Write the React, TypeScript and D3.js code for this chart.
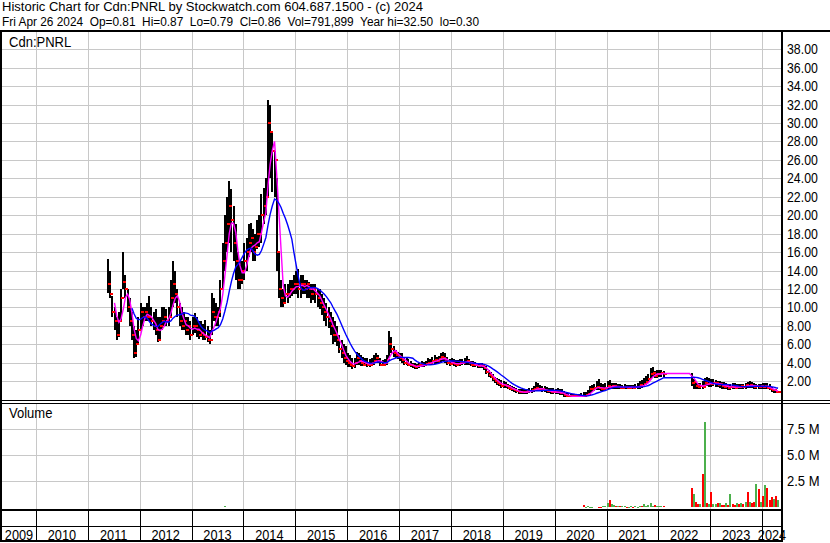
import React, { useRef, useEffect } from 'react';
import * as d3 from 'd3';

const titleLine = 'Historic Chart for Cdn:PNRL by Stockwatch.com 604.687.1500 - (c) 2024';
const quoteLine =
  'Fri Apr 26 2024  Op=0.81  Hi=0.87  Lo=0.79  Cl=0.86  Vol=791,899  Year hi=32.50  lo=0.30';
const symbol = 'Cdn:PNRL';

const priceTicks = [2, 4, 6, 8, 10, 12, 14, 16, 18, 20, 22, 24, 26, 28, 30, 32, 34, 36, 38];
const volumeTicks = [2.5, 5, 7.5];
const volumeLabels = ['2.5 M', '5.0 M', '7.5 M'];
const yearLabels = [2009, 2010, 2011, 2012, 2013, 2014, 2015, 2016, 2017, 2018, 2019, 2020, 2021, 2022, 2023, 2024];

// half-month bars: [high, low, close, volume in millions], null = no trading
const bars2011 = [
  [15.2, 11.6, 12.5, 0], [14, 11, 11.5, 0], [11.2, 9, 9.5, 0], [10, 7.5, 8.5, 0], [9, 6.5, 7, 0],
  [9.5, 6.8, 8.5, 0], [12, 8.5, 11, 0], [16, 12, 12.8, 0], [13.5, 11, 12, 0], [12, 9.5, 10, 0],
  [11, 8, 8.5, 0], [9.5, 6.5, 7, 0], [8, 4.5, 5, 0], [7.5, 4.6, 6, 0], [9, 6, 7.5, 0],
];
const bars2012 = [
  [10.5, 7.5, 9.5, 0], [10, 8, 9, 0], [10, 8.5, 9.5, 0], [10.5, 8.5, 9, 0], [11.2, 8.5, 9, 0],
  [10, 8, 8.5, 0], [9.5, 7.5, 8, 0], [9.8, 7, 7.5, 0], [9, 6.2, 6.5, 0], [9, 6.5, 8, 0],
  [10, 7.5, 8.5, 0], [10, 8, 9, 0], [9.8, 8, 8.5, 0], [10, 8, 9, 0], [13, 9, 11, 0],
  [15, 10, 12.5, 0], [14, 10.5, 11.5, 0], [12, 9, 10, 0], [10.5, 8, 8.5, 0], [10, 7.5, 8, 0],
  [9.5, 7.5, 8.5, 0], [9, 7, 7.5, 0], [9, 7, 8, 0], [8.5, 6.5, 7, 0],
];
const bars2013 = [
  [9, 7, 8, 0], [9.4, 7.2, 8, 0], [9, 6.8, 7.5, 0], [8.5, 6.6, 7, 0], [8.5, 6.8, 7.2, 0],
  [8.2, 6.5, 7, 0], [8.6, 6.5, 6.8, 0], [8, 6.2, 6.5, 0], [7.5, 6, 6.5, 0], [11.6, 7, 9.5, 0],
  [11, 8.5, 9, 0], [10.5, 8, 9, 0], [10, 8, 9.5, 0], [13, 9, 12, 0], [17, 12, 15, 0],
  [20, 14, 17, 0.08], [22, 16, 19, 0], [23.7, 17, 21, 0], [22.8, 16, 19.5, 0], [21, 15, 17, 0],
  [19, 13, 15, 0], [16, 12, 13, 0], [15, 12, 13, 0], [15, 12.5, 14, 0],
];
const bars2014 = [
  [17, 13, 15, 0], [17.5, 14, 16, 0], [19, 15.5, 17, 0], [19.2, 16, 17.5, 0], [18.5, 15, 16, 0],
  [18, 15, 16.5, 0], [19.5, 16.3, 18, 0], [20, 16.5, 18, 0], [22.3, 17, 20, 0], [23, 19, 21, 0],
  [24, 20, 22, 0], [32.5, 22, 30, 0], [32, 24, 29, 0], [29, 22.5, 27, 0], [27, 22, 26, 0],
  [24, 14, 16, 0], [16, 11, 12, 0], [13, 10, 11, 0], [12, 10, 10.5, 0], [12.5, 10.5, 11.5, 0],
  [12.5, 10.5, 11.5, 0], [13, 11, 12, 0], [13, 11.2, 12, 0], [13.5, 11.5, 12.5, 0],
];
const bars2015 = [
  [14, 11.5, 12.5, 0], [14.2, 11, 12, 0], [13.5, 11, 12.5, 0], [13.5, 11.5, 12.5, 0], [13, 11.5, 12, 0],
  [13, 11, 12.5, 0], [12.8, 11, 12, 0], [12.5, 10.5, 11.5, 0], [12.5, 10.8, 12, 0], [12.5, 10.5, 11.5, 0],
  [12, 10, 11, 0], [12, 9.8, 10.5, 0], [11.5, 9.2, 10, 0], [11, 8.5, 9.5, 0], [10.5, 8, 9, 0],
  [10, 7.8, 8.5, 0], [9.5, 7, 8, 0], [9, 6, 7, 0], [8.5, 6.2, 7, 0], [8, 5.8, 6.5, 0],
  [7, 5, 5.5, 0], [6.5, 4.5, 5, 0], [6, 4, 4.5, 0], [5.8, 3.8, 4.2, 0],
];
const bars2016 = [
  [5, 3.5, 4, 0], [4.8, 3.5, 3.8, 0], [4.5, 3.3, 3.6, 0], [4.5, 3.4, 4, 0], [5.2, 3.8, 4.5, 0],
  [5, 3.8, 4.2, 0], [4.8, 3.6, 4, 0], [4.6, 3.6, 3.8, 0], [4.5, 3.6, 4, 0], [4.5, 3.5, 3.8, 0],
  [4.4, 3.5, 3.8, 0], [4.5, 3.6, 4, 0], [4.8, 3.8, 4.2, 0], [5, 4, 4.5, 0], [4.8, 4, 4.2, 0],
  [4.5, 3.6, 3.8, 0], [4.3, 3.6, 3.8, 0], [4.4, 3.7, 4, 0], [4.8, 3.8, 4.3, 0], [7.4, 4.5, 6, 0],
  [6.8, 5, 5.5, 0], [5.8, 4.6, 5, 0], [5.4, 4.5, 4.8, 0], [5.2, 4.4, 4.7, 0],
];
const bars2017 = [
  [5, 4.2, 4.5, 0], [5, 4, 4.3, 0], [4.6, 3.8, 4, 0], [4.5, 3.7, 3.9, 0], [4.4, 3.6, 3.8, 0],
  [4.2, 3.5, 3.7, 0], [4, 3.4, 3.6, 0], [4, 3.3, 3.5, 0], [3.9, 3.3, 3.6, 0], [4, 3.4, 3.7, 0],
  [4.2, 3.5, 3.8, 0], [4.1, 3.5, 3.7, 0], [4.2, 3.6, 3.9, 0], [4.5, 3.7, 4, 0], [4.4, 3.7, 4, 0],
  [4.6, 3.8, 4.2, 0], [4.8, 3.9, 4.3, 0], [4.6, 3.9, 4.2, 0], [4.7, 4, 4.4, 0], [5, 4, 4.6, 0],
  [5.2, 4.2, 4.5, 0], [5.1, 4, 4.3, 0], [4.6, 3.8, 4, 0], [4.4, 3.6, 3.9, 0],
];
const bars2018 = [
  [4.5, 3.7, 4, 0], [4.4, 3.6, 3.9, 0], [4.3, 3.5, 3.8, 0], [4.3, 3.6, 3.9, 0], [4.4, 3.6, 4, 0],
  [4.4, 3.7, 4, 0], [4.5, 3.8, 4.1, 0], [4.7, 3.8, 4.2, 0], [4.4, 3.7, 4, 0], [4.2, 3.6, 3.8, 0],
  [4.2, 3.5, 3.8, 0], [4.1, 3.5, 3.7, 0], [4, 3.4, 3.6, 0], [4, 3.4, 3.7, 0], [4, 3.4, 3.6, 0],
  [3.8, 3.2, 3.4, 0], [3.6, 2.8, 3, 0], [3.2, 2.5, 2.7, 0], [3, 2.3, 2.5, 0], [2.8, 2, 2.2, 0],
  [2.5, 1.8, 2, 0], [2.3, 1.6, 1.8, 0], [2.2, 1.5, 1.7, 0], [2.1, 1.3, 1.5, 0],
];
const bars2019 = [
  [2, 1.3, 1.6, 0], [1.9, 1.3, 1.5, 0], [1.7, 1.1, 1.3, 0], [1.6, 1, 1.2, 0], [1.5, 0.9, 1.1, 0],
  [1.4, 0.8, 1, 0], [1.3, 0.7, 0.9, 0], [1.2, 0.6, 0.8, 0], [1.2, 0.6, 0.8, 0], [1.1, 0.6, 0.8, 0],
  [1.1, 0.6, 0.8, 0], [1.2, 0.6, 0.9, 0], [1.3, 0.7, 0.9, 0], [1.3, 0.7, 1, 0], [1.5, 0.8, 1.1, 0],
  [1.9, 0.9, 1.3, 0], [1.8, 0.9, 1.2, 0], [1.6, 0.9, 1.1, 0], [1.5, 0.8, 1.1, 0], [1.5, 0.8, 1, 0],
  [1.4, 0.7, 0.9, 0], [1.3, 0.7, 0.9, 0], [1.3, 0.6, 0.8, 0], [1.3, 0.6, 0.8, 0],
];
const bars2020 = [
  [1.2, 0.6, 0.8, 0], [1.3, 0.6, 0.8, 0], [1.2, 0.5, 0.7, 0], [1.1, 0.5, 0.7, 0], [0.9, 0.3, 0.5, 0],
  [0.7, 0.25, 0.4, 0], [0.7, 0.25, 0.35, 0], [0.6, 0.25, 0.35, 0], [0.6, 0.25, 0.35, 0], [0.6, 0.25, 0.35, 0],
  [0.6, 0.25, 0.35, 0], [0.6, 0.25, 0.35, 0], [0.7, 0.3, 0.4, 0], [0.8, 0.3, 0.38, 0.15], [0.8, 0.3, 0.5, 0.03],
  [1, 0.4, 0.6, 0.05], [1.5, 0.6, 1.1, 0.03], [1.6, 0.8, 1.2, 0.02], [1.7, 0.9, 1.3, 0], [2, 1, 1.4, 0],
  [2.2, 1, 1.3, 0.02], [1.8, 0.9, 1.2, 0.03], [1.7, 0.9, 1.2, 0.05], [1.8, 1, 1.3, 0.1],
];
const bars2021 = [
  [2, 1.1, 1.5, 0.35], [2.1, 1.1, 1.4, 0.65], [1.8, 1.1, 1.45, 0.3], [1.8, 1.1, 1.5, 0.15], [1.8, 1.1, 1.4, 0.12],
  [1.7, 1.1, 1.4, 0.1], [1.7, 1.1, 1.3, 0.08], [1.6, 1.1, 1.3, 0.05], [1.7, 1.1, 1.4, 0.05], [1.6, 1.1, 1.3, 0.03],
  [1.6, 1.1, 1.3, 0.03], [1.6, 1.1, 1.35, 0.05], [1.6, 1.1, 1.3, 0.02], [1.7, 1.1, 1.4, 0.05], [1.8, 1.1, 1.4, 0.03],
  [2, 1.2, 1.6, 0.1], [2.1, 1.3, 1.5, 0.05], [2.3, 1.4, 1.7, 0.25], [2.6, 1.6, 1.9, 0.05], [2.8, 1.8, 2.2, 0.15],
  [3.4, 2.3, 2.8, 0.35], [3.5, 2.4, 2.9, 0.12], [3.1, 2.3, 2.6, 0.15], [3.2, 2.3, 2.8, 0.05],
];
const bars2022 = [
  [3.2, 2.4, 2.8, 0.1], [3.2, 2.5, 2.9, 0.05], [3.1, 2.5, 2.8, 0.05],
  null, null, null, null, null, null, null, null, null, null, null, null,
  [2.9, 1.5, 1.8, 1.86], [2.2, 1.2, 1.9, 1.25], [1.9, 1.1, 1.5, 0.5], [1.8, 1.1, 1.4, 0.3], [1.8, 1.1, 1.5, 0.3],
  [2, 1.2, 1.4, 3.2], [2.3, 1.4, 1.8, 8.2], [2.4, 1.5, 1.7, 0.4], [2.3, 1.4, 1.8, 0.3],
];
const bars2023 = [
  [2.2, 1.4, 1.7, 1.4], [2.2, 1.5, 1.8, 0.3], [2.1, 1.4, 1.85, 0.3], [2, 1.4, 1.6, 0.4], [2, 1.3, 1.65, 0.35],
  [1.9, 1.2, 1.5, 0.2], [1.9, 1.2, 1.4, 0.15], [1.8, 1.1, 1.45, 0.4], [1.7, 1, 1.3, 0.2], [1.7, 1, 1.4, 1.25],
  [1.8, 1.1, 1.35, 0.3], [1.8, 1.1, 1.3, 0.2], [1.7, 1.1, 1.4, 0.35], [1.7, 1.1, 1.35, 0.3], [1.7, 1.2, 1.45, 0.35],
  [1.7, 1.2, 1.4, 0.25], [1.8, 1.2, 1.55, 0.5], [1.9, 1.3, 1.5, 1.4], [2, 1.3, 1.6, 0.45], [1.9, 1.3, 1.5, 0.35],
  [1.8, 1.2, 1.4, 0.5], [1.7, 1.1, 1.5, 2.2], [1.7, 1.1, 1.35, 1.7], [1.7, 1.1, 1.45, 0.45],
];
const bars2024 = [
  [1.8, 1.2, 1.4, 1.1], [1.8, 1.2, 1.5, 2.1], [1.8, 1.1, 1.3, 1.86], [1.7, 1, 1.2, 0.7],
  [1.4, 0.8, 1, 1.0], [1.2, 0.7, 1.05, 0.8], [1.1, 0.7, 0.8, 1.1], [0.95, 0.7, 0.86, 0.7],
];

const barYears = [
  { year: 2011, first: 9, bars: bars2011 },
  { year: 2012, first: 0, bars: bars2012 },
  { year: 2013, first: 0, bars: bars2013 },
  { year: 2014, first: 0, bars: bars2014 },
  { year: 2015, first: 0, bars: bars2015 },
  { year: 2016, first: 0, bars: bars2016 },
  { year: 2017, first: 0, bars: bars2017 },
  { year: 2018, first: 0, bars: bars2018 },
  { year: 2019, first: 0, bars: bars2019 },
  { year: 2020, first: 0, bars: bars2020 },
  { year: 2021, first: 0, bars: bars2021 },
  { year: 2022, first: 0, bars: bars2022 },
  { year: 2023, first: 0, bars: bars2023 },
  { year: 2024, first: 0, bars: bars2024 },
];

const FONT = '"Liberation Sans", Arial, sans-serif';

// narrow the glyphs a little, the original uses a condensed screen font
function squeeze(sel, k) {
  sel.each(function () {
    const w = this.getComputedTextLength();
    d3.select(this).attr('textLength', w * k).attr('lengthAdjust', 'spacingAndGlyphs');
  });
}

function App() {
  const chartRef = useRef(null);

  useEffect(() => {
    const svg = d3.select(chartRef.current);
    svg.selectAll('*').remove();

    const width = 830;
    const left = 2;
    const axisX = 782;
    const priceTop = 32;
    const priceBottom = 400;
    const volTop = 404;
    const volBottom = 509;

    const x = d3
      .scaleTime()
      .domain([new Date(2010, 0, 1), new Date(2024, 0, 1)])
      .range([36, 762]);
    const y = d3.scaleLinear().domain([0, 38]).range([399.6, 49.2]);
    const yVol = d3.scaleLinear().domain([0, 7.5]).range([507, 429]);

    const periods = [];
    barYears.forEach((row) =>
      row.bars.forEach((b, i) => {
        const k = row.first + i;
        periods.push({ date: new Date(row.year, Math.floor(k / 2), k % 2 ? 23 : 8), bar: b });
      })
    );

    // moving averages of closes; held flat through the trading halt
    const closes = [];
    let prevClose = null;
    periods.forEach((p) => {
      if (p.bar) {
        p.up = prevClose === null || p.bar[2] >= prevClose;
        prevClose = p.bar[2];
        closes.push(p.bar[2]);
      }
      p.fast = closes.length >= 4 ? d3.mean(closes.slice(-4)) : null;
      p.slow = closes.length >= 12 ? d3.mean(closes.slice(-12)) : null;
    });
    const traded = periods.filter((p) => p.bar);
    const px = (d) => Math.round(x(d.date));

    svg.append('rect').attr('width', width).attr('height', 543).attr('fill', '#fff');

    // grid
    const yearLines = yearLabels.slice(1).map((yr) => Math.round(x(new Date(yr, 0, 1))) + 0.5);
    const grid = svg.append('g').attr('stroke', '#c8c8c8').attr('shape-rendering', 'crispEdges');
    grid
      .selectAll('.hp')
      .data(priceTicks)
      .enter()
      .append('line')
      .attr('x1', left)
      .attr('x2', axisX)
      .attr('y1', (d) => Math.round(y(d)) + 0.5)
      .attr('y2', (d) => Math.round(y(d)) + 0.5);
    grid
      .selectAll('.hv')
      .data(volumeTicks)
      .enter()
      .append('line')
      .attr('x1', left)
      .attr('x2', axisX)
      .attr('y1', (d) => Math.round(yVol(d)) + 0.5)
      .attr('y2', (d) => Math.round(yVol(d)) + 0.5);
    [
      [priceTop, priceBottom],
      [volTop, volBottom],
    ].forEach(([a, b]) => {
      grid
        .append('g')
        .selectAll('line')
        .data(yearLines)
        .enter()
        .append('line')
        .attr('x1', (d) => d)
        .attr('x2', (d) => d)
        .attr('y1', a)
        .attr('y2', b);
    });

    // price bars
    svg
      .append('g')
      .attr('shape-rendering', 'crispEdges')
      .selectAll('rect')
      .data(traded)
      .enter()
      .append('rect')
      .attr('x', (d) => px(d) - 1)
      .attr('y', (d) => y(d.bar[0]))
      .attr('width', 2)
      .attr('height', (d) => Math.max(1, y(d.bar[1]) - y(d.bar[0])))
      .attr('fill', '#000');

    svg
      .append('g')
      .attr('shape-rendering', 'crispEdges')
      .selectAll('rect')
      .data(traded)
      .enter()
      .append('rect')
      .attr('x', (d) => px(d))
      .attr('y', (d) => Math.round(y(d.bar[2])) - 1)
      .attr('width', 3)
      .attr('height', 2)
      .attr('fill', '#ff0000');

    // moving averages
    const maLine = (key) =>
      d3
        .line()
        .defined((d) => d[key] !== null)
        .x((d) => x(d.date))
        .y((d) => y(d[key]));
    svg
      .append('path')
      .datum(periods)
      .attr('fill', 'none')
      .attr('stroke', '#ff00ff')
      .attr('stroke-width', 1.4)
      .attr('d', maLine('fast'));
    svg
      .append('path')
      .datum(periods)
      .attr('fill', 'none')
      .attr('stroke', '#0000ff')
      .attr('stroke-width', 1.4)
      .attr('d', maLine('slow'));

    // volume
    svg
      .append('g')
      .attr('shape-rendering', 'crispEdges')
      .selectAll('rect')
      .data(traded.filter((d) => d.bar[3] > 0))
      .enter()
      .append('rect')
      .attr('x', (d) => px(d) - 1)
      .attr('y', (d) => yVol(d.bar[3]))
      .attr('width', 2)
      .attr('height', (d) => Math.max(1, yVol(0) - yVol(d.bar[3])))
      .attr('fill', (d) => (d.up ? '#4cb04c' : '#ff0000'));

    // frame
    const frame = svg.append('g').attr('fill', '#000').attr('shape-rendering', 'crispEdges');
    frame.append('rect').attr('x', 0).attr('y', 30).attr('width', width).attr('height', 2);
    frame.append('rect').attr('x', 0).attr('y', 30).attr('width', 2).attr('height', 512);
    frame.append('rect').attr('x', axisX - 1).attr('y', 30).attr('width', 2).attr('height', 512);
    frame.append('rect').attr('x', 0).attr('y', priceBottom).attr('width', width).attr('height', 1);
    frame.append('rect').attr('x', 0).attr('y', 403).attr('width', width).attr('height', 1);
    frame.append('rect').attr('x', 0).attr('y', volBottom).attr('width', axisX).attr('height', 2);
    frame.append('rect').attr('x', 0).attr('y', 526).attr('width', axisX).attr('height', 1);
    frame.append('rect').attr('x', 0).attr('y', 540).attr('width', axisX).attr('height', 2);
    frame
      .selectAll('.yr')
      .data(yearLines)
      .enter()
      .append('rect')
      .attr('x', (d) => d - 0.5)
      .attr('y', volBottom)
      .attr('width', 1)
      .attr('height', 32);

    // texts
    const text = svg.append('g').attr('font-family', FONT).attr('fill', '#000');
    text
      .append('text')
      .attr('x', 2)
      .attr('y', 10.5)
      .attr('font-size', 12)
      .attr('textLength', 421)
      .attr('lengthAdjust', 'spacingAndGlyphs')
      .text(titleLine);
    text
      .append('text')
      .attr('x', 2)
      .attr('y', 26)
      .attr('font-size', 12)
      .attr('textLength', 477)
      .attr('lengthAdjust', 'spacingAndGlyphs')
      .style('white-space', 'pre')
      .text(quoteLine);

    text.append('text').attr('x', 9).attr('y', 46.5).attr('font-size', 14).text(symbol).call(squeeze, 0.93);
    text.append('text').attr('x', 9).attr('y', 418).attr('font-size', 14).text('Volume').call(squeeze, 0.93);

    text
      .selectAll('.pl')
      .data(priceTicks)
      .enter()
      .append('text')
      .attr('x', 787)
      .attr('y', (d) => y(d) + 5)
      .attr('font-size', 14)
      .text((d) => d.toFixed(2))
      .call(squeeze, 0.88);

    text
      .selectAll('.vl')
      .data(volumeTicks)
      .enter()
      .append('text')
      .attr('x', 787)
      .attr('y', (d) => yVol(d) + 5)
      .attr('font-size', 14)
      .text((d, i) => volumeLabels[i])
      .call(squeeze, 0.93);

    text
      .selectAll('.yl')
      .data(yearLabels)
      .enter()
      .append('text')
      .attr('x', (yr) => {
        const a = Math.max(left, x(new Date(yr, 0, 1)));
        const b = Math.min(axisX, x(new Date(yr + 1, 0, 1)));
        return (a + b) / 2;
      })
      .attr('y', 539.5)
      .attr('font-size', 14)
      .attr('text-anchor', 'middle')
      .text((d) => d)
      .call(squeeze, 0.91);
  }, []);

  return (
    <svg
      ref={chartRef}
      width={830}
      height={543}
      style={{ position: 'absolute', left: 0, top: 0, display: 'block' }}
    ></svg>
  );
}

export default App;
